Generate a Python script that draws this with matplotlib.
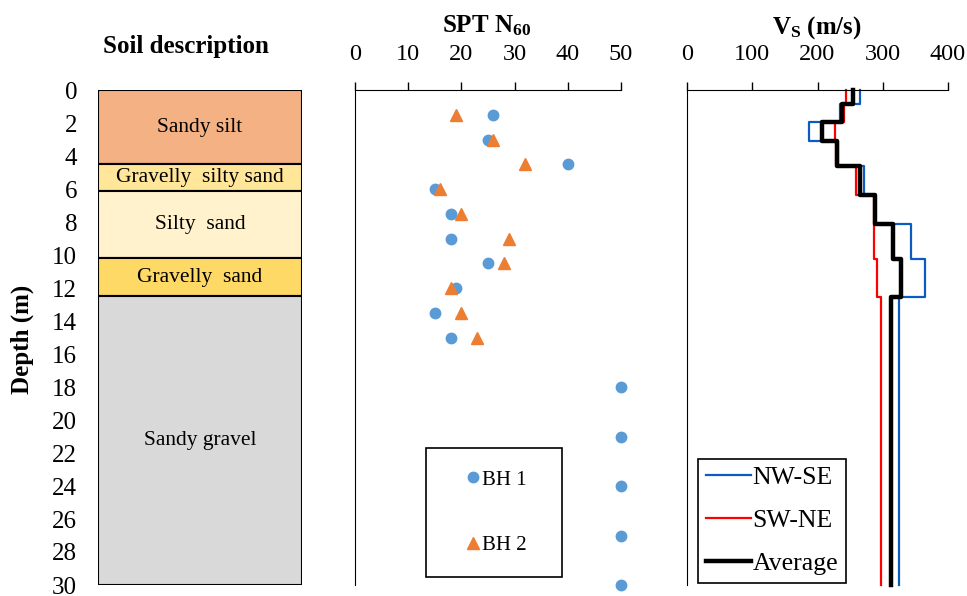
import numpy as np
import matplotlib
matplotlib.use("Agg")
import matplotlib.pyplot as plt

plt.rcParams["font.family"] = "Liberation Serif"
plt.rcParams["mathtext.fontset"] = "custom"
plt.rcParams["mathtext.rm"] = "Liberation Serif"
plt.rcParams["mathtext.bf"] = "Liberation Serif:bold"

# soil log
soil_names = ["Sandy silt", "Gravelly  silty sand", "Silty  sand", "Gravelly  sand", "Sandy gravel"]
soil_top = [0.0, 4.5, 6.1, 10.2, 12.5]
soil_bottom = [4.5, 6.1, 10.2, 12.5, 30.0]
soil_colors = ["#F4B183", "#FFE699", "#FFF2CC", "#FFD966", "#D9D9D9"]

# SPT N60 from the two boreholes
bh1_depth = [1.5, 3, 4.5, 6, 7.5, 9, 10.5, 12, 13.5, 15, 18, 21, 24, 27, 30]
bh1_n = [26, 25, 40, 15, 18, 18, 25, 19, 15, 18, 50, 50, 50, 50, 50]
bh2_depth = [1.5, 3, 4.5, 6, 7.5, 9, 10.5, 12, 13.5, 15]
bh2_n = [19, 26, 32, 16, 20, 29, 28, 18, 20, 23]

# shear wave velocity layers
vs_bounds = [0, 0.85, 1.95, 3.1, 4.6, 6.35, 8.1, 10.25, 12.55, 30]
vs_nwse = [265, 235, 187, 232, 272, 288, 344, 365, 325]
vs_swne = [244, 241, 227, 228, 259, 287, 287, 291, 298]
vs_avg = [255, 238, 207, 230, 265, 288, 316, 328, 312]

W, H = 967, 596
TICK_FS = 17.5
TITLE_FS = 18


def px_axes(x0, y0, x1, y1):
    return fig.add_axes([x0 / W, 1 - y1 / H, (x1 - x0) / W, (y1 - y0) / H])


def step_profile(bounds, vals):
    d = np.repeat(bounds, 2)[1:-1]
    v = np.repeat(vals, 2)
    return v, d


fig = plt.figure(figsize=(W / 100, H / 100), dpi=100)

# ---- soil column
ax0 = px_axes(98, 90, 302, 585)
for name, top, bot, col in zip(soil_names, soil_top, soil_bottom, soil_colors):
    ax0.bar(0.5, bot - top, bottom=top, width=1.0, color=col, edgecolor="black", linewidth=1.5)
    ax0.text(0.5, (top + bot) / 2, name, ha="center", va="center", fontsize=15.5)
ax0.set_xlim(0, 1)
ax0.set_ylim(30, 0)
ax0.set_yticks(np.arange(0, 31, 2))
ax0.tick_params(axis="y", length=0, pad=15, labelsize=18)
ax0.set_xticks([])
for s in ax0.spines.values():
    s.set_visible(False)

# ---- SPT panel
ax1 = px_axes(355, 90, 621, 585)
ax1.plot(bh1_n, bh1_depth, "o", color="#5B9BD5", markersize=7.5, clip_on=False, label="BH 1")
ax1.plot(bh2_n, bh2_depth, "^", color="#ED7D31", markersize=8, clip_on=False, label="BH 2")
ax1.set_xlim(0, 50)
ax1.set_ylim(30, 0)
ax1.set_xticks(np.arange(0, 51, 10))
ax1.set_yticks([])

# ---- Vs panel
ax2 = px_axes(687, 90, 948, 585)
ax2.plot(*step_profile(vs_bounds, vs_nwse), color="#0B5CC2", lw=1.6, label="NW-SE", clip_on=False)
ax2.plot(*step_profile(vs_bounds, vs_swne), color="#FF0000", lw=1.6, label="SW-NE", clip_on=False)
ax2.plot(*step_profile(vs_bounds, vs_avg), color="black", lw=3.2, label="Average", clip_on=False)
ax2.set_xlim(0, 400)
ax2.set_ylim(30, 0)
ax2.set_xticks(np.arange(0, 401, 100))
ax2.set_yticks([])

for ax in (ax1, ax2):
    ax.spines["right"].set_visible(False)
    ax.spines["bottom"].set_visible(False)
    ax.xaxis.set_ticks_position("top")
    ax.tick_params(axis="x", direction="out", length=6, width=1, pad=12, labelsize=TICK_FS)

leg1 = ax1.legend(loc="lower left", bbox_to_anchor=(0.267, 0.016, 0.511, 0.26), mode="expand",
                  fontsize=15, frameon=True, fancybox=False, edgecolor="black", framealpha=1,
                  borderpad=1.05, labelspacing=2.2, handlelength=2.42, handletextpad=-0.78,
                  borderaxespad=0, numpoints=1)
leg1.get_frame().set_linewidth(1.2)

leg2 = ax2.legend(loc="lower left", bbox_to_anchor=(0.042, 0.004), fontsize=18.5,
                  frameon=True, fancybox=False, edgecolor="black", framealpha=1,
                  borderpad=0.3, labelspacing=0.78, handlelength=1.75, handletextpad=0.08,
                  borderaxespad=0)
leg2.get_frame().set_linewidth(1.2)

# titles
fig.text(22 / W, 1 - 339 / H, "Depth (m)", rotation=90, ha="center", va="center",
         fontsize=TITLE_FS, fontweight="bold")
fig.text(186 / W, 1 - 46 / H, "Soil description", ha="center", va="center",
         fontsize=TITLE_FS, fontweight="bold")
fig.text(487 / W, 1 - 26 / H, r"SPT N$\mathbf{_{60}}$", ha="center", va="center",
         fontsize=TITLE_FS, fontweight="bold")
fig.text(817 / W, 1 - 28 / H, r"V$\mathbf{_{S}}$ (m/s)", ha="center", va="center",
         fontsize=TITLE_FS, fontweight="bold")

fig.savefig("out.png", dpi=100)
